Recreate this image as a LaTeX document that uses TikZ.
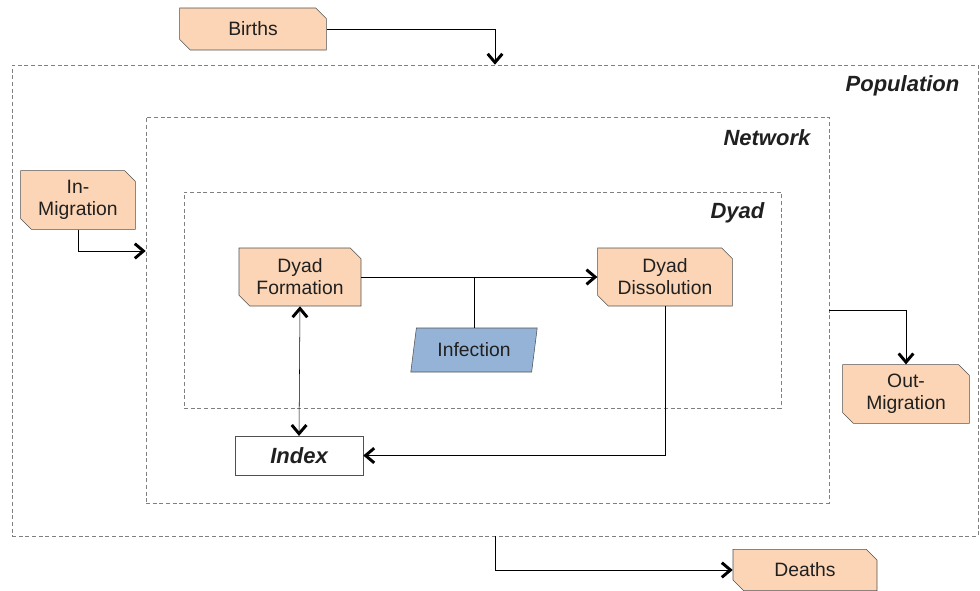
\documentclass[tikz,border=0pt]{standalone}
\usepackage{fontspec}
\setmainfont{Liberation Sans}
\usepackage{xcolor}
\usepackage{tikz}
\usetikzlibrary{arrows.meta,shapes.misc,shapes.geometric,positioning}

\definecolor{peach}{HTML}{FBD5B5}
\definecolor{infblue}{HTML}{95B3D7}
\definecolor{edge}{HTML}{505050}
\definecolor{ink}{HTML}{202020}

\begin{document}
\begin{tikzpicture}[x=0.75pt, y=-0.75pt,
    font=\fontsize{14.5}{16.5}\selectfont, text=ink,
    >={Straight Barb[length=6.5pt,width=11pt,line width=2.2pt]},
    proc/.style={draw=edge, fill=peach, chamfered rectangle, chamfered rectangle xsep=4pt, chamfered rectangle ysep=4pt,
        chamfered rectangle corners={north east,south west}, align=center, inner sep=0pt},
    frame/.style={draw=gray, dash pattern=on 3pt off 2pt, inner sep=0pt},
    title/.style={font=\fontsize{16.5}{18}\selectfont\bfseries\itshape, anchor=east}]
            \useasboundingbox (0,0) rectangle (980,590);

            % frames
            \node[frame, minimum width=724.5pt, minimum height=353.25pt] (pop) at (495,300.5) {};
            \node[frame, minimum width=512.25pt, minimum height=289.5pt] (net) at (487.5,310) {};
            \node[frame, minimum width=447.75pt, minimum height=162pt] (dyad) at (482.5,300) {};
            \node[title] (poplbl) at (964,86) {Population};
            \node[title] (netlbl) at (815,138) {Network};
            \node[title] (dyadlbl) at (769,213) {Dyad};

            % processes
            \node[proc, minimum width=110pt, minimum height=31.5pt] (births) at (253,29) {Births};
            \node[proc, minimum width=86pt, minimum height=44pt] (inmig) at (78,200) {In-\\Migration};
            \node[proc, minimum width=91.5pt, minimum height=43.5pt] (form) at (300,277) {Dyad\\Formation};
            \node[proc, minimum width=101pt, minimum height=43.5pt] (diss) at (665,277) {Dyad\\Dissolution};
            \node[proc, minimum width=95pt, minimum height=44pt] (outmig) at (906,394) {Out-\\Migration};
            \node[proc, minimum width=108pt, minimum height=31pt] (deaths) at (805,570) {Deaths};
            \node[draw=edge, fill=infblue, trapezium, trapezium left angle=76, trapezium right angle=104,
                trapezium stretches=true, minimum width=95pt, minimum height=33pt, inner sep=0pt] (inf) at (474,350) {Infection};
            \node[draw=edge, fill=white, minimum width=96pt, minimum height=29pt, inner sep=0pt,
                font=\fontsize{16.5}{18}\selectfont\bfseries\itshape] (index) at (299,455.5) {Index};

            % flows
            \draw[->] (births.east) -| (pop.north);
            \draw[->] (inmig.south) |- (net.west |- 0,251);
            \draw[->] (form.east) -- (diss.west);
            \draw (inf.north) -- (inf.north |- form.east);
            \draw[<->] (form.south) -- (index.north);
            \draw[->] (diss.south) |- (index.east);
            \draw[->] (net.east) -| (outmig.north);
            \draw[->] (pop.south) |- (deaths.west);
        \end{tikzpicture}
\end{document}
